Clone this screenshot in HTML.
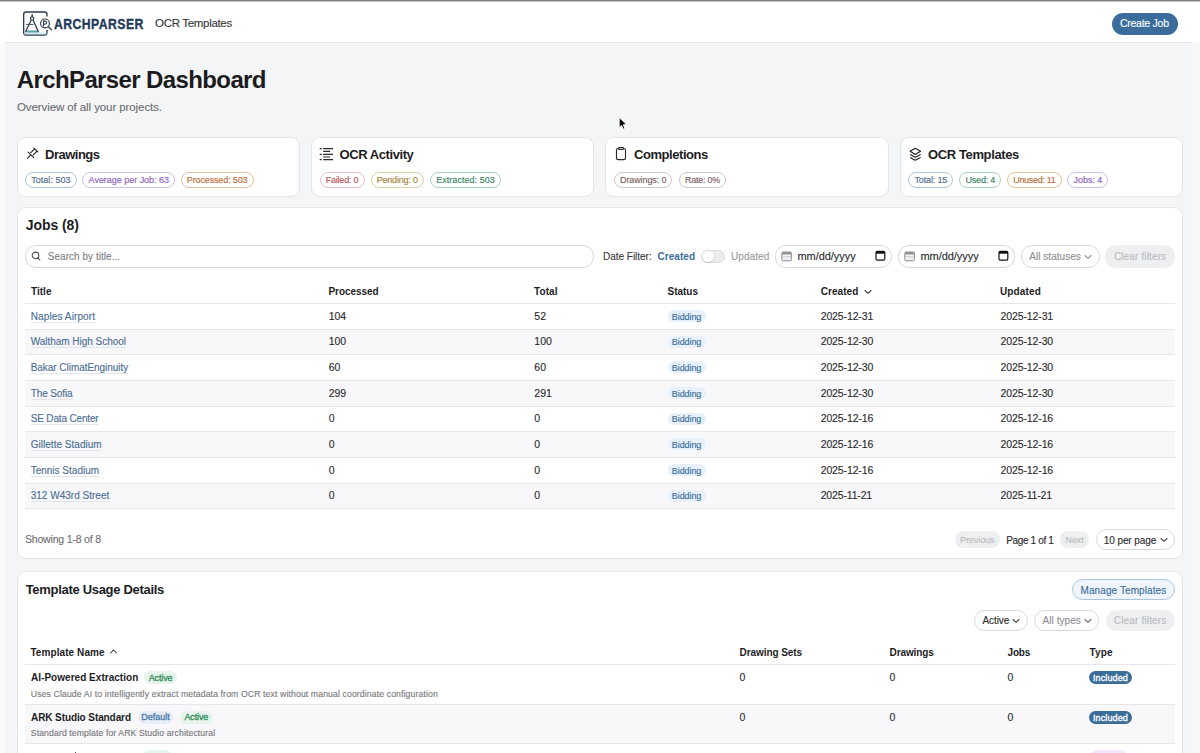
<!DOCTYPE html>
<html><head><meta charset="utf-8">
<style>
*{box-sizing:border-box;margin:0;padding:0}
html,body{width:1200px;height:753px;overflow:hidden;background:#fff;font-family:"Liberation Sans",sans-serif;position:relative}
.t{position:absolute;white-space:nowrap}
.b{position:absolute}
</style></head>
<body>
<div class="b" style="left:0.00px;top:0.00px;width:1200.00px;height:1.00px;background:#7f7f7f"></div>
<div class="b" style="left:0.00px;top:1.00px;width:1200.00px;height:1.00px;background:#c8c8c8"></div>
<div class="b" style="left:0.00px;top:2.00px;width:1200.00px;height:1.00px;background:#fafafa"></div>
<div class="b" style="left:0.00px;top:43.00px;width:5.00px;height:710.00px;background:#fbfbfb"></div>
<div class="b" style="left:1192.00px;top:43.00px;width:8.00px;height:710.00px;background:#f8f8f9"></div>
<div class="b" style="left:5.00px;top:42.00px;width:1187.00px;height:711.00px;background:#f4f5f7"></div>
<div class="b" style="left:5.00px;top:41.50px;width:1187.00px;height:1.50px;background:#e4e5e8"></div>
<svg class="b" style="left:20px;top:8px;" width="36" height="30" viewBox="0 0 36 30">
<path d="M27 8.6 V6.4 Q27 4 24.6 4 H6 Q3.65 4 3.65 6.4 V24.6 Q3.65 27 6 27 H24.6 Q27 27 27 24.6 V21.8" fill="none" stroke="#2f3b4b" stroke-width="1.35"/>
<rect x="4.4" y="24.4" width="22" height="2" fill="#cfeaf5"/>
<path d="M5.8 22.6 L18.4 22.6 L19 24.5 L5.1 24.5 Z" fill="#5f9fb0"/>
<line x1="12.2" y1="6.2" x2="12.2" y2="8.8" stroke="#2f3b4b" stroke-width="1.5"/>
<circle cx="12.1" cy="10.6" r="1.65" fill="#fff" stroke="#2f3b4b" stroke-width="1.2"/>
<path d="M11.1 12.2 L5.5 23.8 M13.1 12.2 L18.4 23.8" stroke="#2f3b4b" stroke-width="1.3" fill="none"/>
<line x1="6" y1="16.4" x2="13.4" y2="16.4" stroke="#2f3b4b" stroke-width="0.9"/>
<circle cx="25" cy="15.4" r="4.4" fill="#fff" stroke="#2f3b4b" stroke-width="1.15"/>
<path d="M23.5 18.4 V13.1 H25 Q26.7 13.1 26.7 14.6 Q26.7 16.1 25 16.1 H23.5" fill="none" stroke="#2f3b4b" stroke-width="1.05"/>
<line x1="28.4" y1="18.8" x2="31.5" y2="21.8" stroke="#2f3b4b" stroke-width="1.3" stroke-linecap="round"/>
</svg>
<div class="t" style="left:53.60px;top:16.00px;font-size:15.5px;line-height:15.5px;color:#1f3a5a;font-weight:bold;-webkit-text-stroke:0.35px #1f3a5a;transform:scaleX(0.79);transform-origin:0 0;letter-spacing:0.55px;">ARCHPARSER</div>
<div class="t" style="left:155.10px;top:18.00px;font-size:11.5px;line-height:11.5px;color:#363638;letter-spacing:-0.321px;-webkit-text-stroke:0.12px #363638;">OCR Templates</div>
<div class="b" style="left:1112.00px;top:12.50px;width:66.00px;height:22.00px;background:#3a6d9c;border-radius:11px"></div>
<div class="t" style="left:1119.90px;top:18.00px;font-size:10.5px;line-height:10.5px;color:#fff;letter-spacing:-0.250px;-webkit-text-stroke:0.12px #fff;">Create Job</div>
<div class="t" style="left:16.80px;top:68.00px;font-size:24px;line-height:24px;color:#1c1c1e;font-weight:bold;letter-spacing:-0.618px;">ArchParser Dashboard</div>
<div class="t" style="left:17.00px;top:102.00px;font-size:11.5px;line-height:11.5px;color:#6e6e73;letter-spacing:-0.091px;-webkit-text-stroke:0.12px #6e6e73;">Overview of all your projects.</div>
<div class="b" style="left:17.00px;top:137.00px;width:283.00px;height:60.00px;background:#fff;border:1px solid #e3e5e8;border-radius:9px"></div>
<div class="b" style="left:311.00px;top:137.00px;width:283.00px;height:60.00px;background:#fff;border:1px solid #e3e5e8;border-radius:9px"></div>
<div class="b" style="left:605.00px;top:137.00px;width:284.00px;height:60.00px;background:#fff;border:1px solid #e3e5e8;border-radius:9px"></div>
<div class="b" style="left:900.00px;top:137.00px;width:283.00px;height:60.00px;background:#fff;border:1px solid #e3e5e8;border-radius:9px"></div>
<div class="t" style="left:45.00px;top:148.00px;font-size:13px;line-height:13px;color:#1d1d1f;font-weight:bold;letter-spacing:-0.500px;">Drawings</div>
<div class="t" style="left:339.50px;top:148.00px;font-size:13px;line-height:13px;color:#1d1d1f;font-weight:bold;letter-spacing:-0.427px;">OCR Activity</div>
<div class="t" style="left:634.00px;top:148.00px;font-size:13px;line-height:13px;color:#1d1d1f;font-weight:bold;letter-spacing:-0.440px;">Completions</div>
<div class="t" style="left:928.00px;top:148.00px;font-size:13px;line-height:13px;color:#1d1d1f;font-weight:bold;letter-spacing:-0.379px;">OCR Templates</div>
<svg class="b" style="left:24px;top:144px;" width="18" height="18" viewBox="0 0 18 18"><g stroke="#1d1d1f" stroke-width="1.05" fill="none" stroke-linecap="round"><path d="M4.1 8.1 L9.8 13.6"/><path d="M3.6 14.4 L6.5 11.1"/><path d="M6.9 8.6 L10.6 4.9"/><path d="M9 11.2 L12.8 7.3"/><path d="M9.9 4.1 L13.9 7.9"/></g></svg>
<svg class="b" style="left:316px;top:144px;" width="22" height="20" viewBox="0 0 22 20"><g stroke="#2a2a2c" stroke-width="1.2" fill="none"><path d="M3.7 4.6 H5.7 M3.7 10.4 H5.7 M3.7 15.7 H5.7"/><path d="M7.2 4.6 H17 M7.2 10.4 H17 M7.2 15.7 H17 M7.2 7.4 H14.1 M7.2 13 H14.1"/></g></svg>
<svg class="b" style="left:610px;top:144px;" width="22" height="20" viewBox="0 0 22 20"><g stroke="#2a2a2c" stroke-width="1.15" fill="none"><rect x="6.5" y="4.5" width="9" height="11.1" rx="1.6"/><rect x="8.5" y="3.6" width="5" height="1.9" rx="0.8" fill="#fff"/></g></svg>
<svg class="b" style="left:905px;top:144px;" width="22" height="20" viewBox="0 0 22 20"><g stroke="#1d1d1f" stroke-width="1.15" fill="none" stroke-linejoin="round"><path d="M10.2 4.3 L15.6 7.3 L10.2 10.4 L5.2 7.3 Z"/><path d="M5.2 10.5 L10.2 13.3 L15.6 10.5"/><path d="M5.2 13.4 L10.2 16.2 L15.6 13.4"/></g></svg>
<div class="b" style="left:25.00px;top:171.60px;width:51.60px;height:16.80px;border:1px solid #b0c4d7;border-radius:9px;background:#fff"></div>
<div class="t" style="left:31.20px;top:176.00px;font-size:9px;line-height:9px;color:#4f7092;letter-spacing:0.039px;-webkit-text-stroke:0.15px #4f7092;">Total: 503</div>
<div class="b" style="left:82.40px;top:171.60px;width:92.60px;height:16.80px;border:1px solid #d1bfe9;border-radius:9px;background:#fff"></div>
<div class="t" style="left:88.60px;top:176.00px;font-size:9px;line-height:9px;color:#8a5fc0;letter-spacing:-0.028px;-webkit-text-stroke:0.15px #8a5fc0;">Average per Job: 63</div>
<div class="b" style="left:180.60px;top:171.60px;width:73.00px;height:16.80px;border:1px solid #eabd9c;border-radius:9px;background:#fff"></div>
<div class="t" style="left:186.80px;top:176.00px;font-size:9px;line-height:9px;color:#c06d3a;letter-spacing:-0.135px;-webkit-text-stroke:0.15px #c06d3a;">Processed: 503</div>
<div class="b" style="left:319.50px;top:171.60px;width:45.00px;height:16.80px;border:1px solid #eabfc4;border-radius:9px;background:#fff"></div>
<div class="t" style="left:325.70px;top:176.00px;font-size:9px;line-height:9px;color:#c0535e;letter-spacing:-0.213px;-webkit-text-stroke:0.15px #c0535e;">Failed: 0</div>
<div class="b" style="left:370.50px;top:171.60px;width:53.50px;height:16.80px;border:1px solid #ddd0a2;border-radius:9px;background:#fff"></div>
<div class="t" style="left:376.70px;top:176.00px;font-size:9px;line-height:9px;color:#a5853c;letter-spacing:-0.194px;-webkit-text-stroke:0.15px #a5853c;">Pending: 0</div>
<div class="b" style="left:430.00px;top:171.60px;width:70.80px;height:16.80px;border:1px solid #a7d2bf;border-radius:9px;background:#fff"></div>
<div class="t" style="left:436.20px;top:176.00px;font-size:9px;line-height:9px;color:#3a8566;letter-spacing:0.042px;-webkit-text-stroke:0.15px #3a8566;">Extracted: 503</div>
<div class="b" style="left:613.80px;top:171.60px;width:58.70px;height:16.80px;border:1px solid #d8c5c5;border-radius:9px;background:#fff"></div>
<div class="t" style="left:620.00px;top:176.00px;font-size:9px;line-height:9px;color:#7a6464;letter-spacing:-0.100px;-webkit-text-stroke:0.15px #7a6464;">Drawings: 0</div>
<div class="b" style="left:678.80px;top:171.60px;width:47.50px;height:16.80px;border:1px solid #d8c5c5;border-radius:9px;background:#fff"></div>
<div class="t" style="left:685.00px;top:176.00px;font-size:9px;line-height:9px;color:#7a6464;letter-spacing:-0.243px;-webkit-text-stroke:0.15px #7a6464;">Rate: 0%</div>
<div class="b" style="left:908.30px;top:171.60px;width:45.00px;height:16.80px;border:1px solid #b0c4d7;border-radius:9px;background:#fff"></div>
<div class="t" style="left:914.50px;top:176.00px;font-size:9px;line-height:9px;color:#4f7092;letter-spacing:-0.150px;-webkit-text-stroke:0.15px #4f7092;">Total: 15</div>
<div class="b" style="left:959.30px;top:171.60px;width:42.00px;height:16.80px;border:1px solid #a7d2bf;border-radius:9px;background:#fff"></div>
<div class="t" style="left:965.50px;top:176.00px;font-size:9px;line-height:9px;color:#3a8566;letter-spacing:-0.200px;-webkit-text-stroke:0.15px #3a8566;">Used: 4</div>
<div class="b" style="left:1007.00px;top:171.60px;width:54.80px;height:16.80px;border:1px solid #eabd9c;border-radius:9px;background:#fff"></div>
<div class="t" style="left:1013.20px;top:176.00px;font-size:9px;line-height:9px;color:#c06d3a;letter-spacing:-0.306px;-webkit-text-stroke:0.15px #c06d3a;">Unused: 11</div>
<div class="b" style="left:1067.30px;top:171.60px;width:41.00px;height:16.80px;border:1px solid #d1bfe9;border-radius:9px;background:#fff"></div>
<div class="t" style="left:1073.50px;top:176.00px;font-size:9px;line-height:9px;color:#8a5fc0;letter-spacing:-0.033px;-webkit-text-stroke:0.15px #8a5fc0;">Jobs: 4</div>
<div class="b" style="left:17.00px;top:207.00px;width:1166.00px;height:352.00px;background:#fff;border:1px solid #e3e5e8;border-radius:9px"></div>
<div class="t" style="left:25.70px;top:218.00px;font-size:14px;line-height:14px;color:#1d1d1f;font-weight:bold;letter-spacing:-0.057px;">Jobs (8)</div>
<div class="b" style="left:25.00px;top:245.00px;width:569.00px;height:23.00px;border:1px solid #d6d8dc;border-radius:11px;background:#fff"></div>
<svg class="b" style="left:30px;top:250px;" width="12" height="12" viewBox="0 0 12 12"><g stroke="#4a4a4c" stroke-width="1.05" fill="none"><circle cx="5.5" cy="5.4" r="3.3"/><path d="M7.9 7.9 L9.8 9.9" stroke-linecap="round"/></g></svg>
<div class="t" style="left:47.80px;top:252.00px;font-size:10px;line-height:10px;color:#808085;letter-spacing:0.029px;-webkit-text-stroke:0.12px #808085;">Search by title...</div>
<div class="t" style="left:603.00px;top:252.00px;font-size:10px;line-height:10px;color:#3a3a3c;letter-spacing:-0.018px;-webkit-text-stroke:0.12px #3a3a3c;">Date Filter:</div>
<div class="t" style="left:657.50px;top:252.00px;font-size:10px;line-height:10px;color:#3a6d9c;font-weight:bold;letter-spacing:0.042px;">Created</div>
<div class="b" style="left:701.00px;top:249.60px;width:24.00px;height:13.60px;background:#ececee;border-radius:7px;border:1px solid #dcdde0"></div>
<div class="b" style="left:702.00px;top:250.60px;width:12.00px;height:11.60px;background:#fff;border-radius:6px;box-shadow:0 0.5px 1px rgba(0,0,0,0.25)"></div>
<div class="t" style="left:731.00px;top:252.00px;font-size:10px;line-height:10px;color:#9a9a9e;letter-spacing:0.067px;-webkit-text-stroke:0.12px #9a9a9e;">Updated</div>
<div class="b" style="left:775.00px;top:245.00px;width:117.00px;height:23.00px;border:1px solid #d6d8dc;border-radius:11px;background:#fff"></div>
<svg class="b" style="left:780.7px;top:251px;" width="12" height="11" viewBox="0 0 12 11"><rect x="0.8" y="1" width="9.6" height="8.8" rx="1.2" fill="#f0f0f0" stroke="#8e8e93" stroke-width="1"/><rect x="1" y="1.2" width="9.2" height="2.2" fill="#8e8e93"/><line x1="1" y1="5.6" x2="10.2" y2="5.6" stroke="#c7c7cc" stroke-width="0.8"/></svg>
<div class="t" style="left:797.50px;top:251.00px;font-size:11px;line-height:11px;color:#2a2a2c;letter-spacing:-0.056px;-webkit-text-stroke:0.12px #2a2a2c;">mm/dd/yyyy</div>
<svg class="b" style="left:875px;top:250.3px;" width="12" height="11" viewBox="0 0 12 11"><rect x="1" y="1.3" width="8.8" height="8.8" rx="1.4" fill="#fff" stroke="#111" stroke-width="1.2"/><rect x="1" y="1.3" width="8.8" height="2.4" fill="#111"/></svg>
<div class="b" style="left:898.00px;top:245.00px;width:116.70px;height:23.00px;border:1px solid #d6d8dc;border-radius:11px;background:#fff"></div>
<svg class="b" style="left:903.7px;top:251px;" width="12" height="11" viewBox="0 0 12 11"><rect x="0.8" y="1" width="9.6" height="8.8" rx="1.2" fill="#f0f0f0" stroke="#8e8e93" stroke-width="1"/><rect x="1" y="1.2" width="9.2" height="2.2" fill="#8e8e93"/><line x1="1" y1="5.6" x2="10.2" y2="5.6" stroke="#c7c7cc" stroke-width="0.8"/></svg>
<div class="t" style="left:920.50px;top:251.00px;font-size:11px;line-height:11px;color:#2a2a2c;letter-spacing:-0.056px;-webkit-text-stroke:0.12px #2a2a2c;">mm/dd/yyyy</div>
<svg class="b" style="left:997.7px;top:250.3px;" width="12" height="11" viewBox="0 0 12 11"><rect x="1" y="1.3" width="8.8" height="8.8" rx="1.4" fill="#fff" stroke="#111" stroke-width="1.2"/><rect x="1" y="1.3" width="8.8" height="2.4" fill="#111"/></svg>
<div class="b" style="left:1021.00px;top:245.00px;width:79.00px;height:23.00px;border:1px solid #d6d8dc;border-radius:11px;background:#fff"></div>
<div class="t" style="left:1029.30px;top:252.00px;font-size:10px;line-height:10px;color:#8e8e93;letter-spacing:0.032px;-webkit-text-stroke:0.12px #8e8e93;">All statuses</div>
<svg class="b" style="left:1084.3px;top:253.5px;" width="8" height="6" viewBox="0 0 8 6"><path d="M1 1.5 L4 4.3 L7 1.5" fill="none" stroke="#8e8e93" stroke-width="1.05" stroke-linecap="round" stroke-linejoin="round"/></svg>
<div class="b" style="left:1105.00px;top:245.00px;width:70.00px;height:23.00px;background:#eeeff1;border-radius:11px"></div>
<div class="t" style="left:1113.90px;top:252.00px;font-size:10px;line-height:10px;color:#b9bcc1;letter-spacing:0.138px;-webkit-text-stroke:0.12px #b9bcc1;">Clear filters</div>
<div class="t" style="left:31.00px;top:287.00px;font-size:10px;line-height:10px;color:#1d1d1f;font-weight:bold;letter-spacing:0.025px;">Title</div>
<div class="t" style="left:328.50px;top:287.00px;font-size:10px;line-height:10px;color:#1d1d1f;font-weight:bold;letter-spacing:-0.075px;">Processed</div>
<div class="t" style="left:534.00px;top:287.00px;font-size:10px;line-height:10px;color:#1d1d1f;font-weight:bold;letter-spacing:0.088px;">Total</div>
<div class="t" style="left:667.50px;top:287.00px;font-size:10px;line-height:10px;color:#1d1d1f;font-weight:bold;letter-spacing:-0.010px;">Status</div>
<div class="t" style="left:820.80px;top:287.00px;font-size:10px;line-height:10px;color:#1d1d1f;font-weight:bold;letter-spacing:0.042px;">Created</div>
<div class="t" style="left:1000.00px;top:287.00px;font-size:10px;line-height:10px;color:#1d1d1f;font-weight:bold;letter-spacing:0.133px;">Updated</div>
<svg class="b" style="left:863.5px;top:288.5px;" width="8" height="6" viewBox="0 0 8 6"><path d="M1 1.5 L4 4.3 L7 1.5" fill="none" stroke="#333" stroke-width="1.05" stroke-linecap="round" stroke-linejoin="round"/></svg>
<div class="b" style="left:25.00px;top:303.00px;width:1150.00px;height:1.00px;background:#e6e7ea"></div>
<div class="b" style="left:25.00px;top:328.67px;width:1150.00px;height:1.00px;background:#e6e7ea"></div>
<div class="t" style="left:30.70px;top:312.00px;font-size:10px;line-height:10px;color:#4a6d92;letter-spacing:0.115px;-webkit-text-stroke:0.12px #4a6d92;text-decoration:underline;text-decoration-color:#e2e5ed;text-underline-offset:2px;text-decoration-thickness:1px;">Naples Airport</div>
<div class="t" style="left:328.70px;top:311.00px;font-size:10.5px;line-height:10.5px;color:#2a2a2c;-webkit-text-stroke:0.12px #2a2a2c;">104</div>
<div class="t" style="left:534.30px;top:311.00px;font-size:10.5px;line-height:10.5px;color:#2a2a2c;-webkit-text-stroke:0.12px #2a2a2c;">52</div>
<div class="b" style="left:668.00px;top:310.00px;width:37.50px;height:12.00px;background:#e8f1fb;border-radius:6px"></div>
<div class="t" style="left:671.80px;top:313.00px;font-size:9px;line-height:9px;color:#40709e;letter-spacing:-0.083px;-webkit-text-stroke:0.15px #40709e;">Bidding</div>
<div class="t" style="left:820.70px;top:311.00px;font-size:10.5px;line-height:10.5px;color:#2a2a2c;letter-spacing:-0.122px;-webkit-text-stroke:0.12px #2a2a2c;">2025-12-31</div>
<div class="t" style="left:1000.60px;top:311.00px;font-size:10.5px;line-height:10.5px;color:#2a2a2c;letter-spacing:-0.122px;-webkit-text-stroke:0.12px #2a2a2c;">2025-12-31</div>
<div class="b" style="left:25.00px;top:329.67px;width:1150.00px;height:24.67px;background:#f8f8fa"></div>
<div class="b" style="left:25.00px;top:354.34px;width:1150.00px;height:1.00px;background:#e6e7ea"></div>
<div class="t" style="left:30.70px;top:337.00px;font-size:10px;line-height:10px;color:#4a6d92;letter-spacing:-0.028px;-webkit-text-stroke:0.12px #4a6d92;text-decoration:underline;text-decoration-color:#e2e5ed;text-underline-offset:2px;text-decoration-thickness:1px;">Waltham High School</div>
<div class="t" style="left:328.70px;top:336.00px;font-size:10.5px;line-height:10.5px;color:#2a2a2c;-webkit-text-stroke:0.12px #2a2a2c;">100</div>
<div class="t" style="left:534.30px;top:336.00px;font-size:10.5px;line-height:10.5px;color:#2a2a2c;-webkit-text-stroke:0.12px #2a2a2c;">100</div>
<div class="b" style="left:668.00px;top:335.67px;width:37.50px;height:12.00px;background:#e8f1fb;border-radius:6px"></div>
<div class="t" style="left:671.80px;top:338.00px;font-size:9px;line-height:9px;color:#40709e;letter-spacing:-0.083px;-webkit-text-stroke:0.15px #40709e;">Bidding</div>
<div class="t" style="left:820.70px;top:336.00px;font-size:10.5px;line-height:10.5px;color:#2a2a2c;letter-spacing:-0.122px;-webkit-text-stroke:0.12px #2a2a2c;">2025-12-30</div>
<div class="t" style="left:1000.60px;top:336.00px;font-size:10.5px;line-height:10.5px;color:#2a2a2c;letter-spacing:-0.122px;-webkit-text-stroke:0.12px #2a2a2c;">2025-12-30</div>
<div class="b" style="left:25.00px;top:380.01px;width:1150.00px;height:1.00px;background:#e6e7ea"></div>
<div class="t" style="left:30.70px;top:363.00px;font-size:10px;line-height:10px;color:#4a6d92;letter-spacing:-0.040px;-webkit-text-stroke:0.12px #4a6d92;text-decoration:underline;text-decoration-color:#e2e5ed;text-underline-offset:2px;text-decoration-thickness:1px;">Bakar ClimatEnginuity</div>
<div class="t" style="left:328.70px;top:362.00px;font-size:10.5px;line-height:10.5px;color:#2a2a2c;-webkit-text-stroke:0.12px #2a2a2c;">60</div>
<div class="t" style="left:534.30px;top:362.00px;font-size:10.5px;line-height:10.5px;color:#2a2a2c;-webkit-text-stroke:0.12px #2a2a2c;">60</div>
<div class="b" style="left:668.00px;top:361.34px;width:37.50px;height:12.00px;background:#e8f1fb;border-radius:6px"></div>
<div class="t" style="left:671.80px;top:364.00px;font-size:9px;line-height:9px;color:#40709e;letter-spacing:-0.083px;-webkit-text-stroke:0.15px #40709e;">Bidding</div>
<div class="t" style="left:820.70px;top:362.00px;font-size:10.5px;line-height:10.5px;color:#2a2a2c;letter-spacing:-0.122px;-webkit-text-stroke:0.12px #2a2a2c;">2025-12-30</div>
<div class="t" style="left:1000.60px;top:362.00px;font-size:10.5px;line-height:10.5px;color:#2a2a2c;letter-spacing:-0.122px;-webkit-text-stroke:0.12px #2a2a2c;">2025-12-30</div>
<div class="b" style="left:25.00px;top:381.01px;width:1150.00px;height:24.67px;background:#f8f8fa"></div>
<div class="b" style="left:25.00px;top:405.68px;width:1150.00px;height:1.00px;background:#e6e7ea"></div>
<div class="t" style="left:30.70px;top:389.00px;font-size:10px;line-height:10px;color:#4a6d92;letter-spacing:-0.106px;-webkit-text-stroke:0.12px #4a6d92;text-decoration:underline;text-decoration-color:#e2e5ed;text-underline-offset:2px;text-decoration-thickness:1px;">The Sofia</div>
<div class="t" style="left:328.70px;top:388.00px;font-size:10.5px;line-height:10.5px;color:#2a2a2c;-webkit-text-stroke:0.12px #2a2a2c;">299</div>
<div class="t" style="left:534.30px;top:388.00px;font-size:10.5px;line-height:10.5px;color:#2a2a2c;-webkit-text-stroke:0.12px #2a2a2c;">291</div>
<div class="b" style="left:668.00px;top:387.01px;width:37.50px;height:12.00px;background:#e8f1fb;border-radius:6px"></div>
<div class="t" style="left:671.80px;top:390.00px;font-size:9px;line-height:9px;color:#40709e;letter-spacing:-0.083px;-webkit-text-stroke:0.15px #40709e;">Bidding</div>
<div class="t" style="left:820.70px;top:388.00px;font-size:10.5px;line-height:10.5px;color:#2a2a2c;letter-spacing:-0.122px;-webkit-text-stroke:0.12px #2a2a2c;">2025-12-30</div>
<div class="t" style="left:1000.60px;top:388.00px;font-size:10.5px;line-height:10.5px;color:#2a2a2c;letter-spacing:-0.122px;-webkit-text-stroke:0.12px #2a2a2c;">2025-12-30</div>
<div class="b" style="left:25.00px;top:431.35px;width:1150.00px;height:1.00px;background:#e6e7ea"></div>
<div class="t" style="left:30.70px;top:414.00px;font-size:10px;line-height:10px;color:#4a6d92;letter-spacing:-0.158px;-webkit-text-stroke:0.12px #4a6d92;text-decoration:underline;text-decoration-color:#e2e5ed;text-underline-offset:2px;text-decoration-thickness:1px;">SE Data Center</div>
<div class="t" style="left:328.70px;top:413.00px;font-size:10.5px;line-height:10.5px;color:#2a2a2c;-webkit-text-stroke:0.12px #2a2a2c;">0</div>
<div class="t" style="left:534.30px;top:413.00px;font-size:10.5px;line-height:10.5px;color:#2a2a2c;-webkit-text-stroke:0.12px #2a2a2c;">0</div>
<div class="b" style="left:668.00px;top:412.68px;width:37.50px;height:12.00px;background:#e8f1fb;border-radius:6px"></div>
<div class="t" style="left:671.80px;top:415.00px;font-size:9px;line-height:9px;color:#40709e;letter-spacing:-0.083px;-webkit-text-stroke:0.15px #40709e;">Bidding</div>
<div class="t" style="left:820.70px;top:413.00px;font-size:10.5px;line-height:10.5px;color:#2a2a2c;letter-spacing:-0.122px;-webkit-text-stroke:0.12px #2a2a2c;">2025-12-16</div>
<div class="t" style="left:1000.60px;top:413.00px;font-size:10.5px;line-height:10.5px;color:#2a2a2c;letter-spacing:-0.122px;-webkit-text-stroke:0.12px #2a2a2c;">2025-12-16</div>
<div class="b" style="left:25.00px;top:432.35px;width:1150.00px;height:24.67px;background:#f8f8fa"></div>
<div class="b" style="left:25.00px;top:457.02px;width:1150.00px;height:1.00px;background:#e6e7ea"></div>
<div class="t" style="left:30.70px;top:440.00px;font-size:10px;line-height:10px;color:#4a6d92;letter-spacing:0.027px;-webkit-text-stroke:0.12px #4a6d92;text-decoration:underline;text-decoration-color:#e2e5ed;text-underline-offset:2px;text-decoration-thickness:1px;">Gillette Stadium</div>
<div class="t" style="left:328.70px;top:439.00px;font-size:10.5px;line-height:10.5px;color:#2a2a2c;-webkit-text-stroke:0.12px #2a2a2c;">0</div>
<div class="t" style="left:534.30px;top:439.00px;font-size:10.5px;line-height:10.5px;color:#2a2a2c;-webkit-text-stroke:0.12px #2a2a2c;">0</div>
<div class="b" style="left:668.00px;top:438.35px;width:37.50px;height:12.00px;background:#e8f1fb;border-radius:6px"></div>
<div class="t" style="left:671.80px;top:441.00px;font-size:9px;line-height:9px;color:#40709e;letter-spacing:-0.083px;-webkit-text-stroke:0.15px #40709e;">Bidding</div>
<div class="t" style="left:820.70px;top:439.00px;font-size:10.5px;line-height:10.5px;color:#2a2a2c;letter-spacing:-0.122px;-webkit-text-stroke:0.12px #2a2a2c;">2025-12-16</div>
<div class="t" style="left:1000.60px;top:439.00px;font-size:10.5px;line-height:10.5px;color:#2a2a2c;letter-spacing:-0.122px;-webkit-text-stroke:0.12px #2a2a2c;">2025-12-16</div>
<div class="b" style="left:25.00px;top:482.69px;width:1150.00px;height:1.00px;background:#e6e7ea"></div>
<div class="t" style="left:30.70px;top:466.00px;font-size:10px;line-height:10px;color:#4a6d92;-webkit-text-stroke:0.12px #4a6d92;text-decoration:underline;text-decoration-color:#e2e5ed;text-underline-offset:2px;text-decoration-thickness:1px;">Tennis Stadium</div>
<div class="t" style="left:328.70px;top:465.00px;font-size:10.5px;line-height:10.5px;color:#2a2a2c;-webkit-text-stroke:0.12px #2a2a2c;">0</div>
<div class="t" style="left:534.30px;top:465.00px;font-size:10.5px;line-height:10.5px;color:#2a2a2c;-webkit-text-stroke:0.12px #2a2a2c;">0</div>
<div class="b" style="left:668.00px;top:464.02px;width:37.50px;height:12.00px;background:#e8f1fb;border-radius:6px"></div>
<div class="t" style="left:671.80px;top:467.00px;font-size:9px;line-height:9px;color:#40709e;letter-spacing:-0.083px;-webkit-text-stroke:0.15px #40709e;">Bidding</div>
<div class="t" style="left:820.70px;top:465.00px;font-size:10.5px;line-height:10.5px;color:#2a2a2c;letter-spacing:-0.122px;-webkit-text-stroke:0.12px #2a2a2c;">2025-12-16</div>
<div class="t" style="left:1000.60px;top:465.00px;font-size:10.5px;line-height:10.5px;color:#2a2a2c;letter-spacing:-0.122px;-webkit-text-stroke:0.12px #2a2a2c;">2025-12-16</div>
<div class="b" style="left:25.00px;top:483.69px;width:1150.00px;height:24.67px;background:#f8f8fa"></div>
<div class="b" style="left:25.00px;top:508.36px;width:1150.00px;height:1.00px;background:#e6e7ea"></div>
<div class="t" style="left:30.70px;top:491.00px;font-size:10px;line-height:10px;color:#4a6d92;letter-spacing:0.013px;-webkit-text-stroke:0.12px #4a6d92;text-decoration:underline;text-decoration-color:#e2e5ed;text-underline-offset:2px;text-decoration-thickness:1px;">312 W43rd Street</div>
<div class="t" style="left:328.70px;top:490.00px;font-size:10.5px;line-height:10.5px;color:#2a2a2c;-webkit-text-stroke:0.12px #2a2a2c;">0</div>
<div class="t" style="left:534.30px;top:490.00px;font-size:10.5px;line-height:10.5px;color:#2a2a2c;-webkit-text-stroke:0.12px #2a2a2c;">0</div>
<div class="b" style="left:668.00px;top:489.69px;width:37.50px;height:12.00px;background:#e8f1fb;border-radius:6px"></div>
<div class="t" style="left:671.80px;top:492.00px;font-size:9px;line-height:9px;color:#40709e;letter-spacing:-0.083px;-webkit-text-stroke:0.15px #40709e;">Bidding</div>
<div class="t" style="left:820.70px;top:490.00px;font-size:10.5px;line-height:10.5px;color:#2a2a2c;letter-spacing:-0.161px;-webkit-text-stroke:0.12px #2a2a2c;">2025-11-21</div>
<div class="t" style="left:1000.60px;top:490.00px;font-size:10.5px;line-height:10.5px;color:#2a2a2c;letter-spacing:-0.161px;-webkit-text-stroke:0.12px #2a2a2c;">2025-11-21</div>
<div class="t" style="left:25.00px;top:534.00px;font-size:10.5px;line-height:10.5px;color:#6e6e73;letter-spacing:-0.187px;-webkit-text-stroke:0.12px #6e6e73;">Showing 1-8 of 8</div>
<div class="b" style="left:954.50px;top:531.20px;width:45.50px;height:16.80px;background:#eeeff1;border-radius:8px"></div>
<div class="t" style="left:960.00px;top:536.00px;font-size:9px;line-height:9px;color:#b9bcc1;letter-spacing:-0.071px;-webkit-text-stroke:0.12px #b9bcc1;">Previous</div>
<div class="t" style="left:1006.30px;top:536.00px;font-size:10px;line-height:10px;color:#2a2a2c;letter-spacing:-0.365px;-webkit-text-stroke:0.12px #2a2a2c;">Page 1 of 1</div>
<div class="b" style="left:1060.00px;top:531.20px;width:29.30px;height:16.80px;background:#eeeff1;border-radius:8px"></div>
<div class="t" style="left:1065.50px;top:536.00px;font-size:9px;line-height:9px;color:#b9bcc1;letter-spacing:-0.067px;-webkit-text-stroke:0.12px #b9bcc1;">Next</div>
<div class="b" style="left:1095.50px;top:528.80px;width:79.50px;height:21.70px;border:1px solid #d6d8dc;border-radius:11px;background:#fff"></div>
<div class="t" style="left:1103.80px;top:536.00px;font-size:10px;line-height:10px;color:#2a2a2c;letter-spacing:-0.090px;-webkit-text-stroke:0.12px #2a2a2c;">10 per page</div>
<svg class="b" style="left:1159.5px;top:537px;" width="8" height="6" viewBox="0 0 8 6"><path d="M1 1.5 L4 4.3 L7 1.5" fill="none" stroke="#444" stroke-width="1.05" stroke-linecap="round" stroke-linejoin="round"/></svg>
<div class="b" style="left:17.00px;top:570.50px;width:1166.00px;height:229.50px;background:#fff;border:1px solid #e3e5e8;border-radius:9px"></div>
<div class="t" style="left:25.70px;top:583.00px;font-size:13px;line-height:13px;color:#1d1d1f;font-weight:bold;letter-spacing:-0.305px;">Template Usage Details</div>
<div class="b" style="left:1072.00px;top:578.80px;width:102.50px;height:21.70px;border:1px solid #aac6df;border-radius:11px;background:#eff5fb"></div>
<div class="t" style="left:1080.50px;top:586.00px;font-size:10px;line-height:10px;color:#3a6d9c;letter-spacing:0.093px;-webkit-text-stroke:0.12px #3a6d9c;">Manage Templates</div>
<div class="b" style="left:973.80px;top:609.50px;width:54.20px;height:21.80px;border:1px solid #d6d8dc;border-radius:11px;background:#fff"></div>
<div class="t" style="left:982.50px;top:616.00px;font-size:10px;line-height:10px;color:#2a2a2c;letter-spacing:-0.090px;-webkit-text-stroke:0.12px #2a2a2c;">Active</div>
<svg class="b" style="left:1012px;top:618px;" width="8" height="6" viewBox="0 0 8 6"><path d="M1 1.5 L4 4.3 L7 1.5" fill="none" stroke="#444" stroke-width="1.05" stroke-linecap="round" stroke-linejoin="round"/></svg>
<div class="b" style="left:1034.30px;top:609.50px;width:65.20px;height:21.80px;border:1px solid #d6d8dc;border-radius:11px;background:#fff"></div>
<div class="t" style="left:1042.50px;top:616.00px;font-size:10px;line-height:10px;color:#8e8e93;letter-spacing:0.062px;-webkit-text-stroke:0.12px #8e8e93;">All types</div>
<svg class="b" style="left:1084px;top:618px;" width="8" height="6" viewBox="0 0 8 6"><path d="M1 1.5 L4 4.3 L7 1.5" fill="none" stroke="#666" stroke-width="1.05" stroke-linecap="round" stroke-linejoin="round"/></svg>
<div class="b" style="left:1105.50px;top:609.50px;width:69.50px;height:21.80px;background:#eeeff1;border-radius:11px"></div>
<div class="t" style="left:1113.80px;top:616.00px;font-size:10px;line-height:10px;color:#b9bcc1;letter-spacing:0.163px;-webkit-text-stroke:0.12px #b9bcc1;">Clear filters</div>
<div class="t" style="left:30.40px;top:648.00px;font-size:10px;line-height:10px;color:#1d1d1f;font-weight:bold;letter-spacing:0.083px;">Template Name</div>
<div class="t" style="left:739.60px;top:648.00px;font-size:10px;line-height:10px;color:#1d1d1f;font-weight:bold;letter-spacing:-0.086px;">Drawing Sets</div>
<div class="t" style="left:889.60px;top:648.00px;font-size:10px;line-height:10px;color:#1d1d1f;font-weight:bold;letter-spacing:-0.114px;">Drawings</div>
<div class="t" style="left:1007.50px;top:648.00px;font-size:10px;line-height:10px;color:#1d1d1f;font-weight:bold;letter-spacing:-0.150px;">Jobs</div>
<div class="t" style="left:1089.60px;top:648.00px;font-size:10px;line-height:10px;color:#1d1d1f;font-weight:bold;letter-spacing:0.100px;">Type</div>
<svg class="b" style="left:109px;top:648px;" width="9" height="7" viewBox="0 0 9 7"><path d="M1.5 5 L4.5 2 L7.5 5" fill="none" stroke="#333" stroke-width="1.05" stroke-linecap="round" stroke-linejoin="round"/></svg>
<div class="b" style="left:25.00px;top:663.80px;width:1150.00px;height:1.00px;background:#e6e7ea"></div>
<div class="t" style="left:31.00px;top:673.00px;font-size:10px;line-height:10px;color:#1d1d1f;font-weight:bold;letter-spacing:0.030px;">AI-Powered Extraction</div>
<div class="b" style="left:144.40px;top:671.40px;width:32.50px;height:12.80px;background:#e6f4ec;border-radius:7px"></div>
<div class="t" style="left:148.75px;top:674.00px;font-size:9px;line-height:9px;color:#2f8a57;letter-spacing:-0.140px;-webkit-text-stroke:0.3px #2f8a57;">Active</div>
<div class="t" style="left:30.80px;top:690.00px;font-size:8.7px;line-height:8.7px;color:#77777c;letter-spacing:0.109px;-webkit-text-stroke:0.12px #77777c;">Uses Claude AI to intelligently extract metadata from OCR text without manual coordinate configuration</div>
<div class="t" style="left:739.60px;top:672.00px;font-size:10.5px;line-height:10.5px;color:#2a2a2c;-webkit-text-stroke:0.12px #2a2a2c;">0</div>
<div class="t" style="left:889.60px;top:672.00px;font-size:10.5px;line-height:10.5px;color:#2a2a2c;-webkit-text-stroke:0.12px #2a2a2c;">0</div>
<div class="t" style="left:1007.50px;top:672.00px;font-size:10.5px;line-height:10.5px;color:#2a2a2c;-webkit-text-stroke:0.12px #2a2a2c;">0</div>
<div class="b" style="left:1088.80px;top:670.80px;width:43.20px;height:13.40px;background:#3b6d9b;border-radius:7px"></div>
<div class="t" style="left:1092.90px;top:674.00px;font-size:9px;line-height:9px;color:#fff;letter-spacing:0.136px;-webkit-text-stroke:0.3px #fff;">Included</div>
<div class="b" style="left:25.00px;top:703.60px;width:1150.00px;height:1.00px;background:#e6e7ea"></div>
<div class="b" style="left:25.00px;top:704.60px;width:1150.00px;height:38.40px;background:#f8f8fa"></div>
<div class="t" style="left:31.00px;top:713.00px;font-size:10px;line-height:10px;color:#1d1d1f;font-weight:bold;letter-spacing:-0.092px;">ARK Studio Standard</div>
<div class="b" style="left:138.00px;top:711.00px;width:35.20px;height:12.90px;background:#e6eef8;border-radius:7px"></div>
<div class="t" style="left:141.35px;top:713.00px;font-size:9px;line-height:9px;color:#4a7aa8;-webkit-text-stroke:0.3px #4a7aa8;">Default</div>
<div class="b" style="left:180.00px;top:711.00px;width:32.70px;height:12.90px;background:#e6f4ec;border-radius:7px"></div>
<div class="t" style="left:184.45px;top:713.00px;font-size:9px;line-height:9px;color:#2f8a57;letter-spacing:-0.140px;-webkit-text-stroke:0.3px #2f8a57;">Active</div>
<div class="t" style="left:30.80px;top:729.00px;font-size:8.7px;line-height:8.7px;color:#77777c;letter-spacing:0.093px;-webkit-text-stroke:0.12px #77777c;">Standard template for ARK Studio architectural</div>
<div class="t" style="left:739.60px;top:712.00px;font-size:10.5px;line-height:10.5px;color:#2a2a2c;-webkit-text-stroke:0.12px #2a2a2c;">0</div>
<div class="t" style="left:889.60px;top:712.00px;font-size:10.5px;line-height:10.5px;color:#2a2a2c;-webkit-text-stroke:0.12px #2a2a2c;">0</div>
<div class="t" style="left:1007.50px;top:712.00px;font-size:10.5px;line-height:10.5px;color:#2a2a2c;-webkit-text-stroke:0.12px #2a2a2c;">0</div>
<div class="b" style="left:1088.80px;top:710.80px;width:43.20px;height:13.40px;background:#3b6d9b;border-radius:7px"></div>
<div class="t" style="left:1092.90px;top:714.00px;font-size:9px;line-height:9px;color:#fff;letter-spacing:0.136px;-webkit-text-stroke:0.3px #fff;">Included</div>
<div class="b" style="left:25.00px;top:743.00px;width:1150.00px;height:1.00px;background:#e6e7ea"></div>
<div class="b" style="left:143.00px;top:750.00px;width:29.30px;height:14.00px;background:#e6f4ec;border-radius:7px"></div>
<div class="b" style="left:1090.00px;top:750.00px;width:37.00px;height:14.00px;background:#f4e6fb;border-radius:7px"></div>
<div class="b" style="left:74.60px;top:751.60px;width:1.20px;height:1.40px;background:#555"></div>
<svg class="b" style="left:617px;top:116px;" width="12" height="15" viewBox="0 0 12 15"><path d="M2.2 1.5 L2.2 11.6 L4.6 9.4 L6.4 13.3 L8 12.6 L6.3 8.8 L9.6 8.6 Z" fill="#000" stroke="#fff" stroke-width="0.9" stroke-linejoin="round"/></svg>
</body></html>
